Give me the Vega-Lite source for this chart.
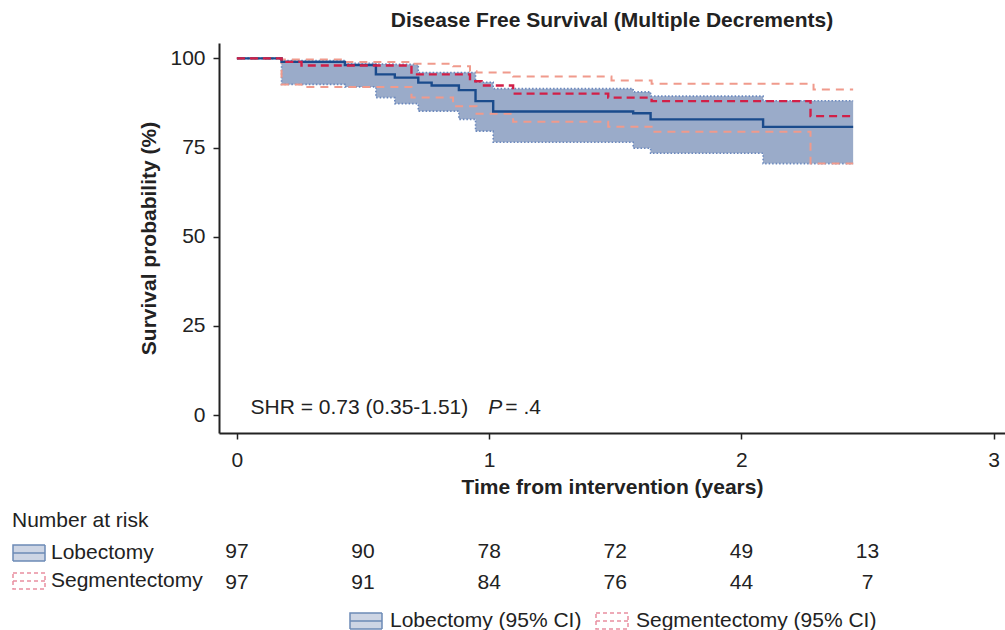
{
  "$schema": "https://vega.github.io/schema/vega-lite/v6.json",
  "padding": {"left": 12, "top": 10, "right": 0, "bottom": 0},
  "background": "white",
  "spacing": 13,
  "datasets": {
    "curves": [
      {"g": "Lobectomy", "t": 0, "est": 100, "lo": 100, "hi": 100},
      {"g": "Lobectomy", "t": 0.177, "est": 99.0, "lo": 92.7, "hi": 99.4},
      {"g": "Lobectomy", "t": 0.428, "est": 98.1, "lo": 92.0, "hi": 98.6},
      {"g": "Lobectomy", "t": 0.551, "est": 95.5, "lo": 89.0, "hi": 98.4},
      {"g": "Lobectomy", "t": 0.626, "est": 94.6, "lo": 87.3, "hi": 98.3},
      {"g": "Lobectomy", "t": 0.719, "est": 93.2, "lo": 85.2, "hi": 96.0},
      {"g": "Lobectomy", "t": 0.772, "est": 92.4, "lo": 85.2, "hi": 96.0},
      {"g": "Lobectomy", "t": 0.88, "est": 91.1, "lo": 82.9, "hi": 96.0},
      {"g": "Lobectomy", "t": 0.946, "est": 88.0, "lo": 79.6, "hi": 93.3},
      {"g": "Lobectomy", "t": 1.016, "est": 85.1, "lo": 76.5, "hi": 91.5},
      {"g": "Lobectomy", "t": 1.571, "est": 84.6, "lo": 74.8, "hi": 90.6},
      {"g": "Lobectomy", "t": 1.64, "est": 82.9, "lo": 73.4, "hi": 89.4},
      {"g": "Lobectomy", "t": 2.086, "est": 80.8, "lo": 70.5, "hi": 88.1},
      {"g": "Lobectomy", "t": 2.443, "est": 80.8, "lo": 70.5, "hi": 88.1},
      {"g": "Segmentectomy", "t": 0, "est": 100, "lo": 100, "hi": 100},
      {"g": "Segmentectomy", "t": 0.177, "est": 99.0, "lo": 92.7, "hi": 99.7},
      {"g": "Segmentectomy", "t": 0.256, "est": 98.0, "lo": 92.0, "hi": 99.7},
      {"g": "Segmentectomy", "t": 0.42, "est": 98.0, "lo": 92.0, "hi": 99.0},
      {"g": "Segmentectomy", "t": 0.692, "est": 95.5, "lo": 89.0, "hi": 98.5},
      {"g": "Segmentectomy", "t": 0.857, "est": 95.5, "lo": 86.6, "hi": 97.8},
      {"g": "Segmentectomy", "t": 0.924, "est": 93.6, "lo": 86.6, "hi": 96.4},
      {"g": "Segmentectomy", "t": 0.95, "est": 93.6, "lo": 84.5, "hi": 96.0},
      {"g": "Segmentectomy", "t": 0.97, "est": 92.4, "lo": 84.5, "hi": 96.0},
      {"g": "Segmentectomy", "t": 1.095, "est": 90.1, "lo": 82.2, "hi": 94.9},
      {"g": "Segmentectomy", "t": 1.472, "est": 89.0, "lo": 80.8, "hi": 94.9},
      {"g": "Segmentectomy", "t": 1.485, "est": 89.0, "lo": 80.8, "hi": 93.8},
      {"g": "Segmentectomy", "t": 1.644, "est": 88.0, "lo": 79.4, "hi": 92.9},
      {"g": "Segmentectomy", "t": 2.274, "est": 83.8, "lo": 70.5, "hi": 92.9},
      {"g": "Segmentectomy", "t": 2.286, "est": 83.8, "lo": 70.5, "hi": 91.3},
      {"g": "Segmentectomy", "t": 2.443, "est": 83.8, "lo": 70.5, "hi": 91.3}
    ],
    "risk": [
      {"group": "Lobectomy", "t": 0, "n": 97},
      {"group": "Lobectomy", "t": 0.5, "n": 90},
      {"group": "Lobectomy", "t": 1, "n": 78},
      {"group": "Lobectomy", "t": 1.5, "n": 72},
      {"group": "Lobectomy", "t": 2, "n": 49},
      {"group": "Lobectomy", "t": 2.5, "n": 13},
      {"group": "Segmentectomy", "t": 0, "n": 97},
      {"group": "Segmentectomy", "t": 0.5, "n": 91},
      {"group": "Segmentectomy", "t": 1, "n": 84},
      {"group": "Segmentectomy", "t": 1.5, "n": 76},
      {"group": "Segmentectomy", "t": 2, "n": 44},
      {"group": "Segmentectomy", "t": 2.5, "n": 7}
    ]
  },
  "vconcat": [
    {
      "width": 786,
      "height": 390,
      "title": {"text": "Disease Free Survival (Multiple Decrements)", "fontSize": 21, "fontWeight": "bold", "anchor": "middle", "baseline": "alphabetic", "offset": -5, "color": "#222"},
      "data": {"name": "curves"},
      "encoding": {
        "x": {"field": "t", "type": "quantitative", "title": "Time from intervention (years)",
              "scale": {"domain": [-0.071, 3.045], "nice": false, "zero": false},
              "axis": {"values": [0, 1, 2, 3], "labelPadding": 10, "titlePadding": 6}}
      },
      "layer": [
        {
          "transform": [{"filter": "datum.g == 'Lobectomy'"}],
          "mark": {"type": "area", "interpolate": "step-after", "color": "#9aabc9", "opacity": 1},
          "encoding": {
            "y": {"field": "lo", "type": "quantitative", "title": "Survival probability (%)",
                  "scale": {"domain": [-5, 104.3], "nice": false, "zero": false},
                  "axis": {"values": [0, 25, 50, 75, 100], "labelPadding": 8, "titlePadding": 10}},
            "y2": {"field": "hi"}
          }
        },
        {
          "transform": [{"filter": "datum.g == 'Lobectomy'"}],
          "mark": {"type": "line", "interpolate": "step-after", "color": "#6a88bd", "strokeWidth": 1.6, "strokeDash": [1.5, 2]},
          "encoding": {"y": {"field": "hi", "type": "quantitative", "title": "Survival probability (%)"}}
        },
        {
          "transform": [{"filter": "datum.g == 'Lobectomy'"}],
          "mark": {"type": "line", "interpolate": "step-after", "color": "#6a88bd", "strokeWidth": 1.6, "strokeDash": [1.5, 2]},
          "encoding": {"y": {"field": "lo", "type": "quantitative", "title": "Survival probability (%)"}}
        },
        {
          "transform": [{"filter": "datum.g == 'Segmentectomy'"}],
          "mark": {"type": "line", "interpolate": "step-after", "color": "#f09a8c", "strokeWidth": 2, "strokeDash": [8, 6]},
          "encoding": {"y": {"field": "hi", "type": "quantitative", "title": "Survival probability (%)"}}
        },
        {
          "transform": [{"filter": "datum.g == 'Segmentectomy'"}],
          "mark": {"type": "line", "interpolate": "step-after", "color": "#f09a8c", "strokeWidth": 2, "strokeDash": [8, 6]},
          "encoding": {"y": {"field": "lo", "type": "quantitative", "title": "Survival probability (%)"}}
        },
        {
          "transform": [{"filter": "datum.g == 'Lobectomy'"}],
          "mark": {"type": "line", "interpolate": "step-after", "color": "#1a4b8c", "strokeWidth": 2.4},
          "encoding": {"y": {"field": "est", "type": "quantitative", "title": "Survival probability (%)"}}
        },
        {
          "transform": [{"filter": "datum.g == 'Segmentectomy'"}],
          "mark": {"type": "line", "interpolate": "step-after", "color": "#d21f47", "strokeWidth": 2.4, "strokeDash": [8, 5]},
          "encoding": {"y": {"field": "est", "type": "quantitative", "title": "Survival probability (%)"}}
        },
        {
          "data": {"values": [{"label": "SHR = 0.73 (0.35-1.51)", "ax": 0.054, "ay": 1.9}]},
          "mark": {"type": "text", "align": "left", "baseline": "middle", "fontSize": 21, "color": "#222"},
          "encoding": {"x": {"field": "ax", "type": "quantitative"}, "y": {"field": "ay", "type": "quantitative"}, "text": {"field": "label"}}
        },
        {
          "data": {"values": [{"label": "P", "ax": 0.996, "ay": 1.9}]},
          "mark": {"type": "text", "align": "left", "baseline": "middle", "fontSize": 21, "fontStyle": "italic", "color": "#222"},
          "encoding": {"x": {"field": "ax", "type": "quantitative"}, "y": {"field": "ay", "type": "quantitative"}, "text": {"field": "label"}}
        },
        {
          "data": {"values": [{"label": "= .4", "ax": 1.064, "ay": 1.9}]},
          "mark": {"type": "text", "align": "left", "baseline": "middle", "fontSize": 21, "color": "#222"},
          "encoding": {"x": {"field": "ax", "type": "quantitative"}, "y": {"field": "ay", "type": "quantitative"}, "text": {"field": "label"}}
        }
      ]
    },
    {
      "width": 786,
      "height": 62,
      "data": {"name": "risk"},
      "layer": [
        {
          "mark": {"type": "text", "fontSize": 21, "color": "#222", "align": "center", "baseline": "middle"},
          "encoding": {
            "x": {"field": "t", "type": "quantitative", "scale": {"domain": [-0.071, 3.045], "nice": false, "zero": false}, "axis": null},
            "y": {"field": "group", "type": "nominal", "scale": {"type": "point", "padding": 0.5}, "axis": null},
            "text": {"field": "n", "type": "quantitative"}
          }
        },
        {
          "transform": [{"filter": "false"}],
          "mark": {"type": "point", "filled": true, "size": 1024, "strokeWidth": 1.5},
          "encoding": {
            "shape": {"field": "group", "type": "nominal",
                      "scale": {"domain": ["Lobectomy", "Segmentectomy"], "range": ["M-1,-0.5H1V0.5H-1Z M-1,0H1", "M-1,-0.5H1V0.5H-1Z M-1,0H1"]},
                      "legend": {"title": "Number at risk", "orient": "none", "legendX": -207, "legendY": -26, "direction": "vertical", "titlePadding": 5, "rowPadding": -1, "labelOffset": 5}},
            "fill": {"field": "group", "type": "nominal",
                     "scale": {"domain": ["Lobectomy", "Segmentectomy"], "range": ["#9aabc9", "rgba(255,255,255,0)"]},
                     "legend": {"title": "Number at risk", "orient": "none", "legendX": -207, "legendY": -26, "direction": "vertical", "titlePadding": 5, "rowPadding": -1, "labelOffset": 5}},
            "stroke": {"field": "group", "type": "nominal",
                       "scale": {"domain": ["Lobectomy", "Segmentectomy"], "range": ["#2f5a98", "#e0607a"]},
                       "legend": {"title": "Number at risk", "orient": "none", "legendX": -207, "legendY": -26, "direction": "vertical", "titlePadding": 5, "rowPadding": -1, "labelOffset": 5}},
            "strokeDash": {"field": "group", "type": "nominal",
                           "scale": {"domain": ["Lobectomy", "Segmentectomy"], "range": [[1, 0], [4, 3]]},
                           "legend": {"title": "Number at risk", "orient": "none", "legendX": -207, "legendY": -26, "direction": "vertical", "titlePadding": 5, "rowPadding": -1, "labelOffset": 5}}
          }
        },
        {
          "transform": [{"filter": "false"}],
          "mark": {"type": "point", "filled": true, "size": 1024, "strokeWidth": 1.5},
          "encoding": {
            "shape": {"field": "group", "type": "nominal",
                      "scale": {"domain": ["Lobectomy", "Segmentectomy"], "range": ["M-1,-0.5H1V0.5H-1Z M-1,0H1", "M-1,-0.5H1V0.5H-1Z M-1,0H1"]},
                      "legend": {"title": null, "orient": "none", "legendX": 130, "legendY": 68, "direction": "horizontal", "columnPadding": 11, "labelExpr": "datum.label + ' (95% CI)'"}},
            "fill": {"field": "group", "type": "nominal",
                     "scale": {"domain": ["Lobectomy", "Segmentectomy"], "range": ["#9aabc9", "rgba(255,255,255,0)"]},
                     "legend": {"title": null, "orient": "none", "legendX": 130, "legendY": 68, "direction": "horizontal", "columnPadding": 11, "labelExpr": "datum.label + ' (95% CI)'"}},
            "stroke": {"field": "group", "type": "nominal",
                       "scale": {"domain": ["Lobectomy", "Segmentectomy"], "range": ["#2f5a98", "#e0607a"]},
                       "legend": {"title": null, "orient": "none", "legendX": 130, "legendY": 68, "direction": "horizontal", "columnPadding": 11, "labelExpr": "datum.label + ' (95% CI)'"}},
            "strokeDash": {"field": "group", "type": "nominal",
                           "scale": {"domain": ["Lobectomy", "Segmentectomy"], "range": [[1, 0], [4, 3]]},
                           "legend": {"title": null, "orient": "none", "legendX": 130, "legendY": 68, "direction": "horizontal", "columnPadding": 11, "labelExpr": "datum.label + ' (95% CI)'"}}
          }
        }
      ],
      "resolve": {
        "scale": {"shape": "independent", "fill": "independent", "stroke": "independent", "strokeDash": "independent"},
        "legend": {"shape": "independent", "fill": "independent", "stroke": "independent", "strokeDash": "independent"}
      }
    }
  ],
  "config": {
    "font": "Liberation Sans",
    "view": {"stroke": null},
    "axis": {"domainColor": "#222", "domainWidth": 2, "tickColor": "#222", "tickWidth": 1.5, "tickSize": 6,
             "labelFontSize": 21, "labelColor": "#222", "titleFontSize": 21, "titleFontWeight": "bold", "titleColor": "#222", "grid": false},
    "legend": {"labelFontSize": 21, "labelColor": "#222", "titleFontSize": 21, "titleFontWeight": "normal", "titleColor": "#222",
               "symbolSize": 1024, "symbolStrokeWidth": 1.5, "labelOffset": 7, "padding": 0, "titleLimit": 400, "labelLimit": 400}
  }
}
